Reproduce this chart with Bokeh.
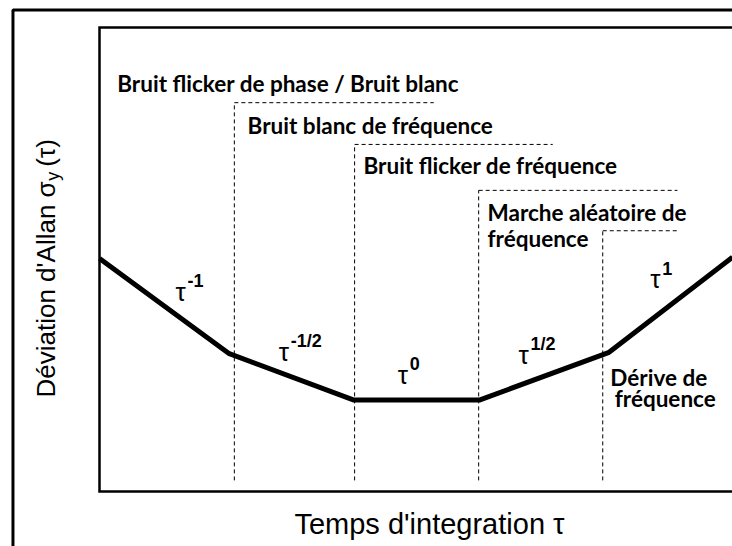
import math
from bokeh.plotting import figure
from bokeh.models import Range1d
from bokeh.core.properties import value
from bokeh.embed import file_html
from bokeh.resources import INLINE

# Schematic Allan deviation curve (arbitrary units: log tau -> 0..10, log sigma -> 0..10)
tau_pts = [0.0, 2.05, 4.02, 6.0, 8.05, 10.0]
sigma_pts = [5.02, 2.97, 1.97, 1.97, 3.0, 5.05]

# Noise region boundaries (dashed brackets)
region_x = [2.13, 4.03, 5.99, 7.95]
region_top = [8.38, 7.48, 6.49, 5.62]
region_end = [5.28, 7.16, 9.13, 9.15]
region_bottom = [0.24, 0.24, 0.24, 0.24]

# Noise type labels
noise_labels = ["Bruit flicker de phase / Bruit blanc", "Bruit blanc de fréquence",
                "Bruit flicker de fréquence", "Marche aléatoire de", "fréquence",
                "Dérive de", "fréquence"]
noise_x = [0.28, 2.34, 4.17, 6.13, 6.13, 8.07, 8.14]
noise_y = [8.79, 7.89, 7.03, 6.01, 5.45, 2.46, 2.0]

# Slope labels tau^n
slope_exp = ["-1", "-1/2", "0", "1/2", "1"]
slope_x = [1.20, 2.83, 4.71, 6.62, 8.70]
slope_y = [4.31, 3.0, 2.52, 2.95, 4.57]

# Axis titles
x_title = "Temps d'integration τ"
y_title_parts = ["Déviation d'Allan σ", "y", "(τ)"]

# View extents (frame box is 0..10 in both directions)
X_MIN, X_MAX = -1.564, 10.0
Y_MIN, Y_MAX = -1.185, 10.582
OUTER_LEFT, OUTER_TOP = -1.367, 10.377

p = figure(width=732, height=546, x_range=Range1d(X_MIN, X_MAX), y_range=Range1d(Y_MIN, Y_MAX),
           output_backend="svg", toolbar_location=None, min_border=0)
p.outline_line_color = None
p.grid.visible = False
p.axis.visible = False
p.background_fill_color = "white"
p.border_fill_color = "white"

# outer picture border
p.line([OUTER_LEFT, OUTER_LEFT, X_MAX + 1], [Y_MIN - 1, OUTER_TOP, OUTER_TOP],
       line_color="black", line_width=3)
# plot box (left, top, bottom)
p.line([X_MAX + 1, 0, 0, X_MAX + 1], [10, 10, 0, 0], line_color="black", line_width=2.5,
       line_join="miter")

# axis titles
p.text(x=[5.213], y=[-0.69], text=[x_title], text_font=value("Liberation Sans"),
       text_font_size="29px", text_color="black", text_align="center", text_baseline="middle")
p.text(x=[-0.853], y=[2.026], text=[y_title_parts[0]], angle=math.pi / 2,
       text_font=value("Liberation Sans"), text_font_size="26px", text_color="black",
       text_align="left", text_baseline="middle")
p.text(x=[-0.853], y=[6.70], text=[y_title_parts[1]], angle=math.pi / 2, x_offset=7,
       text_font=value("Liberation Sans"), text_font_size="18px", text_color="black",
       text_align="left", text_baseline="middle")
p.text(x=[-0.853], y=[7.00], text=[y_title_parts[2]], angle=math.pi / 2,
       text_font=value("Liberation Sans"), text_font_size="26px", text_color="black",
       text_align="left", text_baseline="middle")

# dashed region brackets
p.segment(x0=region_x, y0=region_bottom, x1=region_x, y1=region_top,
          line_color="black", line_width=1, line_dash="4 3")
p.segment(x0=region_x, y0=region_top, x1=region_end, y1=region_top,
          line_color="black", line_width=1, line_dash="4 3")

# curve
p.line(tau_pts, sigma_pts, line_color="black", line_width=5)

# noise labels
p.text(x=noise_x, y=noise_y, text=noise_labels, text_font=value("Lato"),
       text_font_style="bold", text_font_size="22.5px", text_color="black",
       text_align="left", text_baseline="middle")

# slope labels
p.text(x=slope_x, y=slope_y, text=["τ"] * len(slope_x), text_font=value("Liberation Sans"),
       text_font_size="26px", text_color="black", text_align="left", text_baseline="middle")
p.text(x=slope_x, y=slope_y, text=slope_exp, x_offset=12, y_offset=-11,
       text_font=value("Liberation Sans"), text_font_style="bold",
       text_font_size="18px", text_color="black", text_align="left", text_baseline="middle")

open("out.html", "w").write(file_html(p, INLINE))
